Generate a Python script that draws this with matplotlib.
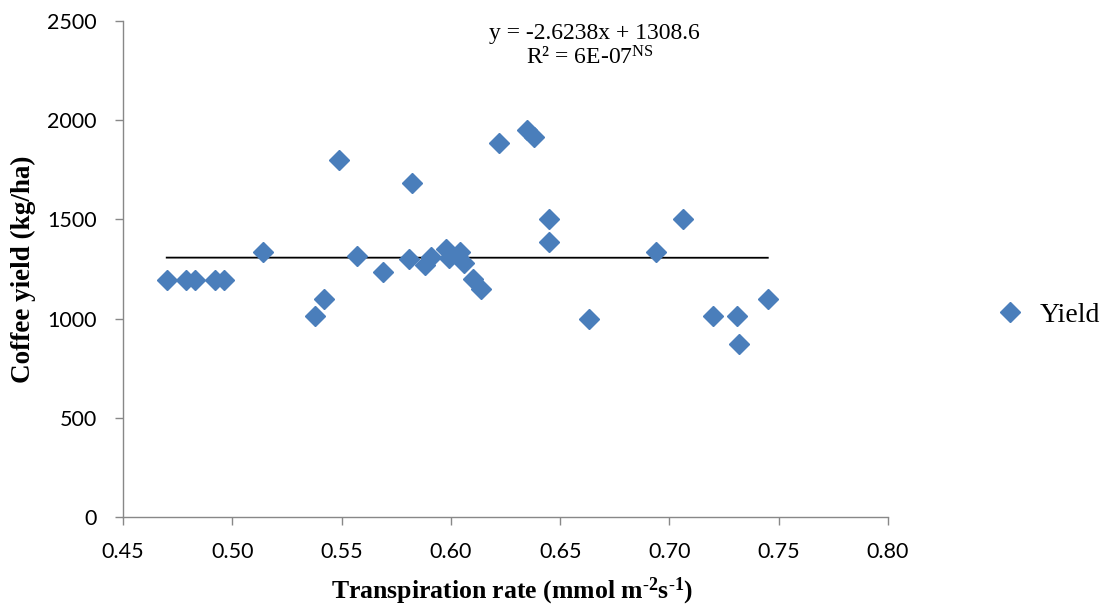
import matplotlib
matplotlib.use("Agg")
import matplotlib.pyplot as plt
import numpy as np

plt.rcParams['mathtext.fontset'] = 'custom'
plt.rcParams['mathtext.rm'] = 'Liberation Serif'
plt.rcParams['mathtext.it'] = 'Liberation Serif:italic'
plt.rcParams['mathtext.bf'] = 'Liberation Serif:bold'

# Data
transpiration = [0.470, 0.479, 0.483, 0.492, 0.496, 0.514, 0.538, 0.542, 0.549, 0.557,
                 0.569, 0.581, 0.582, 0.588, 0.591, 0.598, 0.599, 0.604, 0.606, 0.610,
                 0.614, 0.622, 0.635, 0.638, 0.645, 0.645, 0.663, 0.694, 0.706, 0.720,
                 0.731, 0.732, 0.745]
yield_kg = [1195, 1195, 1195, 1195, 1195, 1335, 1015, 1100, 1800, 1315,
            1235, 1300, 1685, 1270, 1310, 1350, 1305, 1335, 1280, 1200,
            1150, 1885, 1950, 1915, 1500, 1385, 1000, 1335, 1500, 1015,
            1015, 870, 1100]
slope, intercept = -2.6238, 1308.6

x_ticks = [0.45, 0.50, 0.55, 0.60, 0.65, 0.70, 0.75, 0.80]
y_ticks = [0, 500, 1000, 1500, 2000, 2500]

fig = plt.figure(figsize=(11.04, 6.08), dpi=100)
ax = fig.add_axes([123/1104, 1-517/608, (888-123)/1104, (517-21)/608])

ax.plot(transpiration, yield_kg, linestyle='none', marker='D', markersize=10.5,
        color='#4a7ebb', label='Yield', zorder=3)
xl = np.array([min(transpiration), max(transpiration)])
ax.plot(xl, slope*xl + intercept, color='black', linewidth=1.3, zorder=2)

ax.set_xlim(0.45, 0.80)
ax.set_ylim(0, 2500)
ax.set_xticks(x_ticks)
ax.set_xticklabels([f"{t:.2f}" for t in x_ticks], fontfamily='Lato', fontsize=15.5)
ax.set_yticks(y_ticks)
ax.set_yticklabels([str(t) for t in y_ticks], fontfamily='Lato', fontsize=15.5)
ax.spines['top'].set_visible(False)
ax.spines['right'].set_visible(False)
for s in ['left', 'bottom']:
    ax.spines[s].set_color('#888888')
    ax.spines[s].set_linewidth(1)
ax.tick_params(direction='out', length=6, color='#888888', width=1)
ax.tick_params(axis='y', pad=13)
ax.tick_params(axis='x', pad=12)

ax.set_xlabel(r'Transpiration rate (mmol m$^{\mathbf{\text{-}2}}$s$^{\mathbf{\text{-}1}}$)',
              fontfamily='Liberation Serif', fontweight='bold', fontsize=18.5)
ax.set_ylabel('Coffee yield (kg/ha)', fontfamily='Liberation Serif',
              fontweight='bold', fontsize=19.5)
ax.yaxis.set_label_coords(-(123-36)/765, 0.5)
ax.xaxis.set_label_coords((512-123)/765, -(576-517)/496)

fig.text(594/1104, 1-33/608, 'y = -2.6238x + 1308.6', ha='center', va='center',
         fontfamily='Liberation Serif', fontsize=17)
fig.text(590/1104, 1-58/608, r'R² = 6E-07$^{\mathrm{NS}}$', ha='center', va='center',
         fontfamily='Liberation Serif', fontsize=17)

fig.legend(loc='center left', bbox_to_anchor=(995/1104, 1-315/608), frameon=False,
           prop={'family': 'Liberation Serif', 'size': 20}, handletextpad=0.5,
           handlelength=1.1, borderaxespad=0, borderpad=0)

fig.savefig('out.png', dpi=100)
